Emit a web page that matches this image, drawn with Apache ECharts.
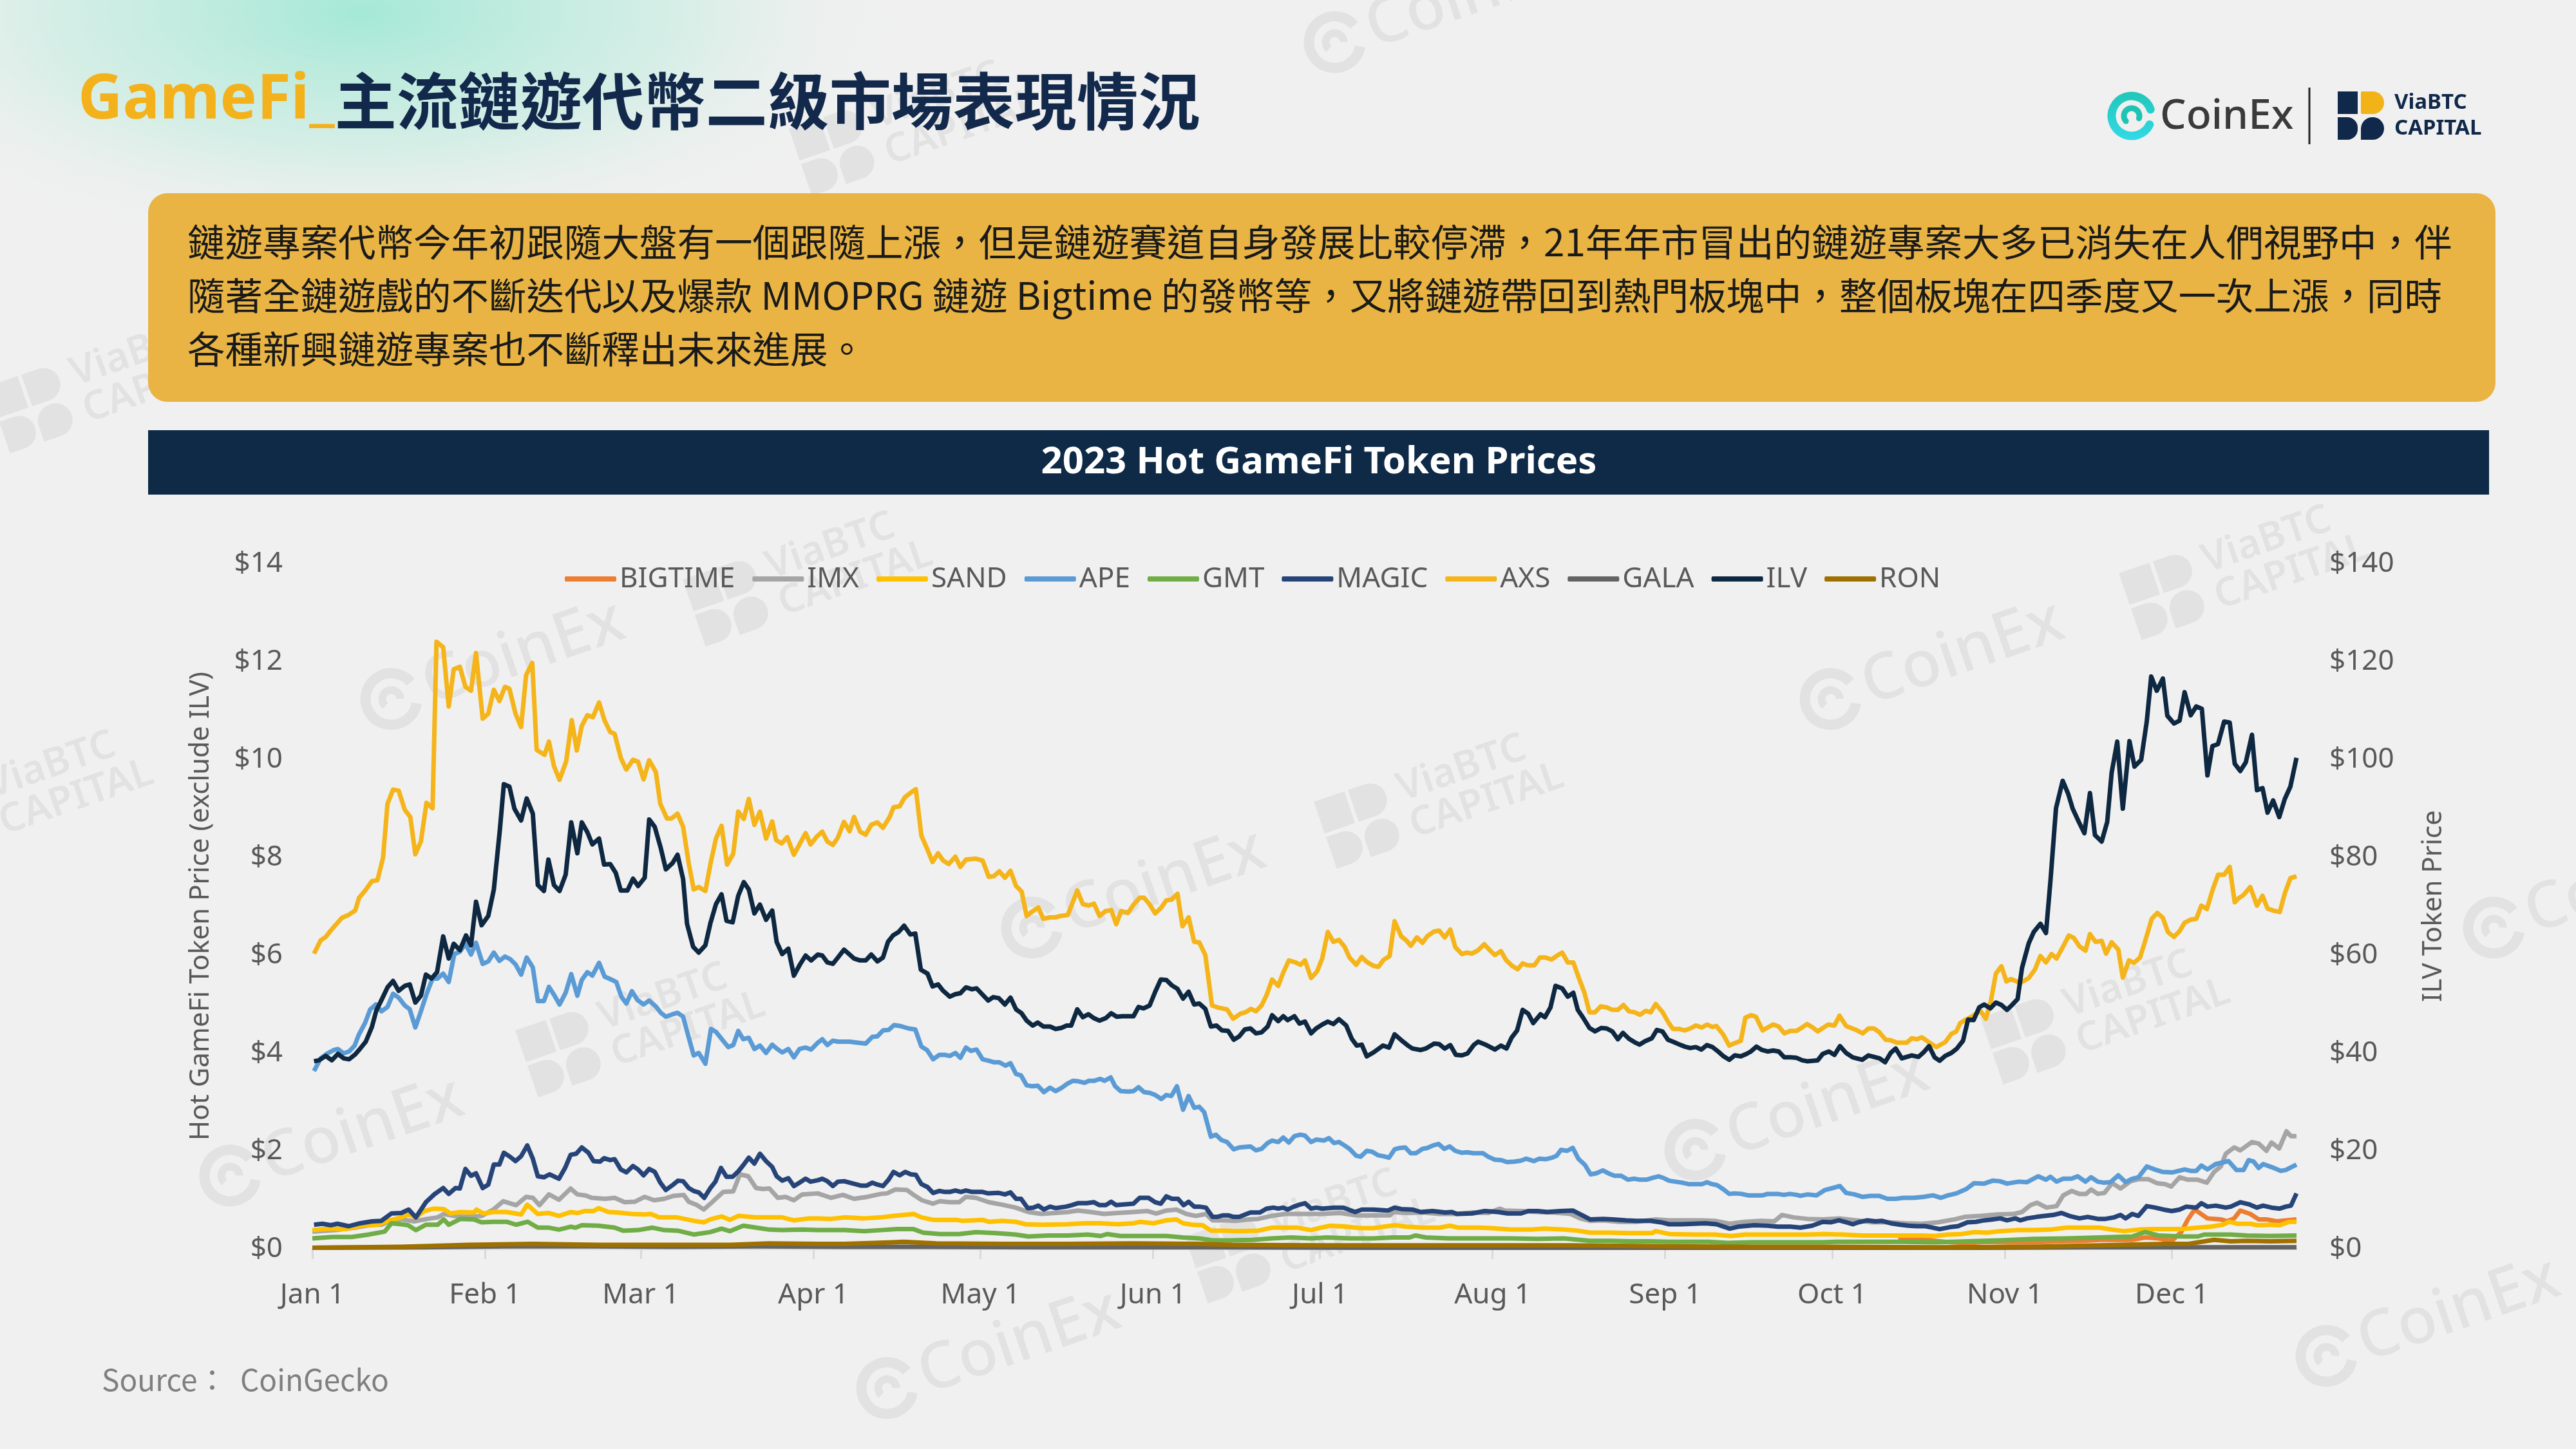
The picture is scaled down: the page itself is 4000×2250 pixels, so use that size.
<!DOCTYPE html>
<meta charset="utf-8">
<style>
html, body { margin: 0; padding: 0; background: #f0f0f0; }
#main { width: 4000px; height: 2250px; }
</style>
<div id="main"></div>
<script src="https://cdn.jsdelivr.net/npm/echarts@6/dist/echarts.min.js"></script>
<script>
// prices: [days after 2023-01-01, USD]
var BIGTIME = [[284.9,0.18],[287.2,0.23],[289.7,0.21],[291.4,0.16],[294.4,0.13],[297.4,0.12],[300.9,0.14],[304.4,0.13],[309.2,0.13],[313.9,0.15],[318.0,0.16],[321.0,0.18],[323.9,0.18],[326.9,0.18],[329.2,0.23],[331.6,0.21],[334.0,0.16],[335.7,0.34],[336.9,0.60],[338.1,0.80],[340.4,0.62],[342.8,0.60],[343.9,0.56],[345.2,0.62],[346.3,0.78],[348.1,0.71],[349.6,0.60],[351.0,0.60],[352.8,0.56],[354.6,0.58],[356.4,0.60]];

var IMX = [[0,0.35],[4.2,0.38],[7.7,0.43],[10.7,0.49],[12.4,0.49],[14.2,0.58],[16.0,0.60],[18.3,0.56],[20.7,0.61],[22.5,0.64],[23.6,0.71],[25.4,0.67],[27.8,0.65],[30.4,0.67],[32.5,0.80],[34.3,0.97],[36.6,0.89],[38.4,1.06],[39.6,1.04],[40.8,0.89],[42.5,1.11],[44.3,1.00],[46.4,1.23],[47.6,1.11],[49.0,1.09],[50.2,1.04],[52.6,1.02],[54.3,1.04],[56.1,0.95],[57.9,0.96],[59.7,1.06],[61.4,0.99],[63.2,1.02],[64.9,1.08],[66.7,1.10],[67.6,0.96],[69.1,0.89],[70.3,0.80],[71.8,0.95],[73.8,1.16],[75.6,1.17],[76.8,1.52],[78.3,1.48],[79.7,1.24],[80.9,1.22],[82.1,1.23],[83.6,1.04],[85.0,1.06],[86.5,0.99],[88.0,1.11],[90.8,1.13],[93.2,1.04],[95.3,1.10],[97.3,1.02],[99.7,1.06],[102.1,1.12],[103.2,1.13],[104.7,1.21],[106.8,1.20],[108.0,1.10],[109.5,0.99],[111.5,0.92],[112.7,0.97],[114.5,0.95],[116.2,0.95],[117.4,1.06],[119.2,1.04],[121.5,0.95],[123.9,0.90],[126.3,0.84],[128.6,0.75],[131.0,0.71],[133.4,0.73],[135.7,0.75],[137.5,0.78],[139.8,0.75],[142.2,0.71],[144.6,0.73],[147.5,0.75],[149.9,0.77],[151.6,0.72],[153.4,0.78],[155.2,0.80],[157.0,0.71],[158.7,0.67],[160.5,0.71],[161.7,0.58],[164.1,0.58],[165.8,0.57],[168.2,0.60],[169.9,0.61],[172.3,0.67],[174.7,0.71],[177.0,0.71],[179.4,0.71],[181.1,0.71],[184.6,0.73],[187.6,0.68],[190.6,0.68],[193.5,0.68],[194.2,0.75],[196.5,0.73],[199.4,0.74],[202.4,0.71],[205.3,0.71],[208.3,0.74],[211.2,0.73],[213.3,0.82],[214.2,0.78],[217.1,0.77],[220.1,0.75],[223.0,0.74],[226.0,0.71],[227.7,0.62],[229.5,0.57],[231.9,0.58],[234.8,0.55],[237.8,0.55],[241.3,0.60],[243.7,0.58],[246.6,0.58],[249.6,0.58],[251.9,0.57],[254.6,0.51],[257.3,0.55],[260.2,0.57],[262.6,0.56],[264.0,0.69],[266.1,0.64],[268.5,0.61],[271.3,0.60],[274.3,0.62],[277.3,0.58],[280.2,0.54],[283.2,0.54],[286.1,0.52],[289.1,0.51],[292.0,0.54],[295.0,0.60],[296.8,0.65],[299.7,0.67],[302.7,0.70],[305.6,0.71],[307.1,0.75],[308.6,0.89],[309.8,0.94],[311.5,0.84],[313.3,0.87],[314.5,1.09],[316.0,1.18],[317.4,1.12],[318.6,1.12],[319.5,1.21],[320.7,1.12],[321.9,1.14],[323.3,1.34],[324.8,1.23],[326.6,1.38],[328.0,1.42],[329.8,1.42],[331.3,1.34],[332.8,1.32],[333.9,1.27],[335.4,1.46],[336.9,1.41],[338.6,1.41],[340.3,1.35],[341.6,1.57],[342.8,1.68],[343.7,1.94],[345.2,2.07],[346.3,2.01],[348.4,2.18],[349.6,2.15],[351.0,2.00],[351.9,2.17],[353.3,2.05],[354.6,2.40],[355.4,2.30],[356.4,2.30]];

var SAND = [[0,0.38],[3.0,0.41],[5.9,0.40],[8.9,0.47],[11.8,0.49],[13.6,0.57],[16.0,0.64],[17.2,0.70],[18.6,0.64],[20.1,0.77],[21.9,0.82],[23.6,0.81],[24.8,0.72],[26.6,0.75],[29.0,0.74],[29.5,0.80],[30.7,0.72],[32.5,0.75],[34.9,0.75],[37.5,0.70],[38.6,0.90],[40.5,0.71],[42.5,0.73],[44.3,0.67],[46.4,0.75],[47.6,0.73],[49.0,0.77],[50.5,0.77],[51.4,0.83],[53.2,0.75],[54.9,0.74],[57.3,0.71],[59.7,0.70],[60.8,0.71],[62.3,0.64],[65.5,0.64],[68.5,0.57],[70.3,0.54],[71.5,0.60],[73.5,0.66],[75.0,0.59],[76.5,0.67],[79.7,0.64],[82.1,0.64],[84.4,0.64],[86.5,0.58],[89.2,0.62],[90.8,0.62],[93.2,0.61],[95.6,0.64],[97.3,0.63],[99.1,0.62],[102.1,0.64],[104.4,0.67],[106.2,0.69],[108.0,0.71],[109.4,0.64],[111.5,0.59],[115.6,0.59],[116.8,0.57],[120.4,0.59],[121.5,0.55],[123.9,0.57],[126.3,0.55],[128.1,0.50],[131.0,0.49],[135.7,0.50],[138.7,0.52],[141.6,0.52],[144.6,0.50],[147.5,0.52],[148.7,0.55],[151.1,0.52],[153.4,0.58],[155.2,0.60],[156.4,0.52],[158.1,0.49],[159.9,0.48],[161.4,0.37],[164.1,0.37],[165.8,0.36],[169.9,0.37],[172.3,0.43],[174.7,0.43],[177.0,0.43],[179.4,0.38],[181.1,0.43],[182.9,0.47],[185.8,0.45],[188.2,0.42],[190.6,0.42],[194.4,0.48],[196.5,0.45],[199.4,0.43],[202.4,0.43],[204.3,0.47],[205.9,0.43],[209.5,0.43],[211.8,0.42],[215.3,0.39],[218.9,0.39],[221.3,0.41],[224.8,0.39],[227.2,0.37],[229.5,0.33],[233.0,0.33],[236.6,0.32],[240.7,0.32],[241.3,0.36],[243.7,0.30],[248.4,0.29],[251.9,0.29],[254.9,0.26],[257.3,0.29],[261.4,0.29],[264.9,0.29],[268.5,0.29],[271.4,0.30],[274.9,0.29],[278.5,0.27],[282.0,0.27],[285.5,0.27],[289.1,0.27],[291.4,0.26],[293.8,0.29],[296.2,0.30],[298.5,0.34],[300.9,0.33],[303.2,0.36],[306.2,0.38],[309.2,0.38],[312.1,0.39],[315.1,0.43],[318.0,0.43],[321.0,0.43],[323.3,0.39],[325.4,0.36],[328.0,0.39],[330.4,0.40],[332.8,0.40],[335.7,0.40],[338.7,0.43],[341.0,0.45],[343.1,0.49],[344.3,0.55],[345.8,0.51],[348.1,0.51],[349.3,0.48],[351.6,0.49],[353.4,0.48],[355.1,0.55],[356.4,0.55]];

var APE = [[0.3,3.63],[1.5,3.89],[2.7,3.99],[3.9,4.06],[4.6,4.08],[5.6,3.99],[6.6,4.03],[7.6,4.15],[8.3,4.36],[9.5,4.62],[10.4,4.89],[11.4,4.99],[12.4,4.85],[13.5,4.94],[14.5,5.21],[15.5,5.13],[16.6,4.97],[17.5,4.89],[18.5,4.52],[19.5,4.85],[20.6,5.23],[21.6,5.52],[22.5,5.52],[23.5,5.62],[24.5,5.45],[25.5,6.02],[26.5,6.07],[27.5,6.23],[28.5,6.01],[29.4,6.25],[30.6,5.82],[31.6,5.87],[32.6,6.05],[33.6,5.88],[34.6,5.97],[35.5,5.92],[36.5,5.81],[37.5,5.60],[38.5,5.95],[39.6,5.75],[40.5,5.06],[41.6,5.06],[42.5,5.35],[43.4,5.19],[44.4,4.99],[45.5,5.23],[46.5,5.61],[47.6,5.17],[48.4,5.49],[49.4,5.65],[50.3,5.58],[51.5,5.84],[52.5,5.56],[53.5,5.51],[54.6,5.45],[55.5,5.15],[56.4,5.01],[57.4,5.26],[58.4,5.08],[59.5,4.99],[60.5,5.07],[61.7,4.95],[62.6,4.82],[63.5,4.74],[64.7,4.79],[65.6,4.82],[66.6,4.74],[67.5,4.36],[68.5,3.95],[69.4,4.00],[70.6,3.78],[71.6,4.49],[72.5,4.43],[73.5,4.29],[74.7,4.12],[75.6,4.16],[76.5,4.45],[77.4,4.28],[78.4,4.31],[79.4,4.08],[80.4,4.15],[81.5,4.00],[82.6,4.17],[83.4,4.09],[84.4,4.01],[85.5,4.08],[86.5,3.91],[87.5,4.08],[88.6,4.11],[89.6,4.07],[90.8,4.21],[91.6,4.28],[92.5,4.16],[93.5,4.25],[94.4,4.23],[96.5,4.23],[97.9,4.21],[99.4,4.19],[100.6,4.33],[101.5,4.34],[102.5,4.46],[103.5,4.47],[104.5,4.57],[105.6,4.55],[107.1,4.50],[108.3,4.48],[109.4,4.13],[110.4,4.06],[111.5,3.87],[112.6,3.96],[113.6,3.96],[114.5,3.94],[115.5,4.00],[116.4,3.90],[117.4,4.11],[118.3,4.04],[119.3,4.07],[120.4,3.87],[121.5,3.84],[122.4,3.81],[123.4,3.81],[124.5,3.74],[125.4,3.79],[126.4,3.57],[127.3,3.54],[128.3,3.34],[129.2,3.32],[130.3,3.33],[131.4,3.20],[132.5,3.29],[133.5,3.22],[134.5,3.28],[135.6,3.37],[136.6,3.43],[137.6,3.42],[138.7,3.39],[139.5,3.43],[140.4,3.43],[141.5,3.47],[142.3,3.43],[143.4,3.50],[144.2,3.32],[145.2,3.22],[146.6,3.21],[147.5,3.22],[148.4,3.30],[149.4,3.20],[150.5,3.18],[151.4,3.14],[152.5,3.06],[153.4,3.14],[154.3,3.12],[155.3,3.32],[156.4,2.84],[157.4,3.12],[158.4,2.88],[159.3,2.90],[160.2,2.79],[161.4,2.29],[162.3,2.33],[163.3,2.22],[164.3,2.18],[165.5,2.03],[166.5,2.07],[168.5,2.09],[169.5,2.01],[170.5,2.04],[171.6,2.16],[172.4,2.21],[173.5,2.18],[174.4,2.27],[175.4,2.17],[176.4,2.30],[177.5,2.33],[178.3,2.31],[179.4,2.18],[180.3,2.23],[181.7,2.21],[182.6,2.26],[183.5,2.16],[184.4,2.18],[185.4,2.11],[186.4,2.03],[187.5,1.90],[188.3,1.88],[189.4,2.00],[190.4,1.98],[191.4,1.91],[192.4,1.89],[193.4,1.86],[194.4,2.03],[195.4,2.06],[196.3,2.07],[197.3,1.95],[198.2,1.95],[199.4,2.04],[200.3,2.06],[201.3,2.11],[202.3,2.14],[203.3,2.04],[204.3,2.09],[205.3,2.00],[206.5,1.96],[207.4,1.97],[208.6,1.95],[210.3,1.95],[211.2,1.88],[212.4,1.82],[213.6,1.81],[214.6,1.77],[215.9,1.78],[217.1,1.80],[218.0,1.84],[219.4,1.79],[220.4,1.84],[221.6,1.83],[222.7,1.86],[223.5,1.90],[224.3,2.02],[225.4,2.00],[226.4,2.06],[227.4,1.84],[228.6,1.71],[229.6,1.52],[230.6,1.54],[231.8,1.60],[232.8,1.54],[233.9,1.49],[235.1,1.49],[236.3,1.41],[237.4,1.43],[238.5,1.41],[239.6,1.41],[240.8,1.45],[241.8,1.48],[242.8,1.44],[243.7,1.39],[244.8,1.37],[246.0,1.35],[247.2,1.32],[249.6,1.32],[250.5,1.36],[251.4,1.32],[252.3,1.30],[253.5,1.21],[254.5,1.12],[255.5,1.13],[256.7,1.12],[257.9,1.09],[260.5,1.09],[261.4,1.12],[263.2,1.12],[264.3,1.10],[265.4,1.12],[266.6,1.10],[267.3,1.08],[268.6,1.11],[270.2,1.09],[271.7,1.20],[273.1,1.24],[274.4,1.28],[275.5,1.14],[277.0,1.11],[278.4,1.06],[279.9,1.08],[281.4,1.08],[282.9,1.02],[284.4,1.02],[285.8,1.04],[287.6,1.04],[289.4,1.06],[291.1,1.09],[292.5,1.04],[293.8,1.09],[295.3,1.13],[297.1,1.22],[298.5,1.34],[300.3,1.33],[301.8,1.39],[303.1,1.38],[304.4,1.33],[306.5,1.37],[308.0,1.36],[310.0,1.48],[311.4,1.41],[312.2,1.47],[313.3,1.37],[314.5,1.43],[316.0,1.43],[317.1,1.48],[318.5,1.37],[319.5,1.46],[320.7,1.37],[321.7,1.35],[323.0,1.36],[324.4,1.50],[325.7,1.36],[326.9,1.43],[328.0,1.46],[329.5,1.68],[330.9,1.62],[332.3,1.57],[334.2,1.56],[336.3,1.62],[337.4,1.59],[338.4,1.59],[339.3,1.70],[340.4,1.62],[341.9,1.73],[343.1,1.76],[344.2,1.79],[345.6,1.61],[346.9,1.61],[347.8,1.81],[348.7,1.78],[349.6,1.65],[350.4,1.73],[352.1,1.66],[353.6,1.59],[354.5,1.61],[356.4,1.72]];

var GMT = [[0,0.21],[3.6,0.24],[7.1,0.24],[10.1,0.29],[13.0,0.35],[14.2,0.52],[16.0,0.50],[17.2,0.48],[18.6,0.38],[20.4,0.49],[22.5,0.49],[23.6,0.60],[24.5,0.49],[26.6,0.61],[29.0,0.60],[30.4,0.54],[32.5,0.55],[34.9,0.55],[36.6,0.49],[38.7,0.55],[40.5,0.43],[42.5,0.43],[44.3,0.39],[46.4,0.45],[47.3,0.43],[48.4,0.48],[51.4,0.47],[54.3,0.43],[55.8,0.37],[58.5,0.38],[61.1,0.43],[63.2,0.38],[65.6,0.37],[68.5,0.29],[71.5,0.34],[73.5,0.41],[75.0,0.36],[77.4,0.47],[79.7,0.43],[82.1,0.39],[84.4,0.38],[88.0,0.39],[90.8,0.38],[92.0,0.38],[95.6,0.38],[99.1,0.36],[102.1,0.38],[105.0,0.40],[108.0,0.40],[109.7,0.33],[112.7,0.30],[116.2,0.30],[119.2,0.34],[122.7,0.32],[126.3,0.29],[128.6,0.25],[132.2,0.27],[135.7,0.27],[139.3,0.29],[141.6,0.26],[142.8,0.30],[145.2,0.26],[149.3,0.26],[153.4,0.26],[156.4,0.23],[159.3,0.21],[161.7,0.17],[165.2,0.17],[168.8,0.18],[172.3,0.21],[175.8,0.23],[179.4,0.21],[182.3,0.23],[186.4,0.21],[190.6,0.21],[194.1,0.23],[197.0,0.23],[198.2,0.27],[200.0,0.23],[204.1,0.21],[208.3,0.21],[211.8,0.21],[215.3,0.21],[220.1,0.20],[224.8,0.21],[229.5,0.16],[233.0,0.16],[236.6,0.15],[240.1,0.15],[243.7,0.14],[247.2,0.14],[250.8,0.14],[254.3,0.12],[258.4,0.13],[262.6,0.13],[267.3,0.13],[271.3,0.13],[273.7,0.14],[279.6,0.14],[285.5,0.14],[291.4,0.13],[297.4,0.15],[303.3,0.17],[309.2,0.20],[315.1,0.21],[321.0,0.23],[326.9,0.25],[329.2,0.34],[331.6,0.27],[335.7,0.25],[338.7,0.25],[339.8,0.29],[344.6,0.29],[347.5,0.27],[351.7,0.26],[356.4,0.27]];

var MAGIC = [[0.3,0.49],[1.8,0.51],[3.3,0.48],[4.5,0.51],[6.5,0.46],[8.6,0.52],[10.7,0.56],[12.4,0.57],[14.2,0.72],[16.0,0.73],[17.3,0.80],[18.6,0.64],[20.4,0.95],[21.9,1.11],[23.5,1.24],[24.5,1.12],[25.7,1.24],[26.5,1.23],[27.5,1.63],[28.5,1.49],[29.4,1.54],[30.6,1.24],[31.6,1.31],[32.6,1.72],[33.6,1.72],[34.4,1.96],[35.5,1.88],[36.5,1.79],[37.5,1.89],[38.6,2.11],[39.6,1.84],[40.5,1.48],[41.6,1.46],[42.6,1.52],[44.3,1.43],[45.4,1.65],[46.4,1.92],[47.4,1.94],[48.4,2.07],[49.6,1.96],[50.5,1.79],[51.7,1.78],[52.4,1.85],[53.5,1.81],[54.3,1.83],[55.4,1.62],[56.4,1.56],[57.6,1.69],[58.5,1.62],[59.5,1.50],[60.5,1.63],[61.5,1.57],[62.5,1.35],[63.5,1.20],[64.7,1.30],[65.7,1.39],[66.6,1.38],[67.6,1.24],[68.5,1.18],[69.4,1.15],[70.4,1.04],[71.5,1.24],[72.4,1.37],[73.4,1.65],[74.4,1.47],[75.5,1.47],[76.5,1.58],[77.5,1.72],[78.4,1.86],[79.4,1.74],[80.4,1.94],[81.5,1.79],[82.6,1.67],[83.4,1.48],[84.4,1.39],[85.5,1.44],[86.5,1.28],[87.5,1.35],[88.6,1.43],[89.5,1.37],[90.8,1.40],[91.6,1.43],[92.5,1.38],[93.5,1.28],[94.4,1.37],[95.5,1.38],[96.5,1.35],[97.5,1.32],[98.5,1.29],[99.6,1.29],[100.6,1.35],[101.5,1.31],[102.5,1.28],[103.5,1.41],[104.4,1.57],[105.5,1.50],[106.5,1.57],[107.5,1.52],[108.4,1.51],[109.4,1.32],[110.5,1.26],[111.5,1.14],[112.6,1.18],[113.6,1.16],[114.5,1.16],[115.5,1.19],[116.5,1.16],[117.4,1.19],[118.5,1.16],[120.4,1.16],[121.4,1.13],[123.3,1.14],[124.4,1.11],[125.4,1.15],[126.4,1.02],[127.3,1.02],[128.5,0.83],[129.5,0.84],[130.4,0.88],[131.4,0.80],[132.5,0.86],[133.5,0.83],[135.4,0.86],[136.4,0.89],[137.5,0.93],[139.1,0.93],[140.4,0.95],[141.4,0.89],[142.5,0.89],[143.5,0.96],[144.4,0.89],[147.5,0.92],[148.6,1.04],[150.2,1.04],[151.4,0.95],[152.4,0.92],[153.4,1.07],[154.4,1.02],[155.5,1.02],[156.5,0.89],[157.4,0.96],[158.4,0.86],[159.3,0.86],[160.5,0.84],[161.7,0.65],[162.5,0.65],[163.5,0.68],[164.6,0.68],[165.5,0.65],[166.5,0.65],[167.6,0.70],[168.5,0.74],[170.2,0.74],[171.4,0.82],[172.6,0.84],[173.5,0.82],[174.4,0.84],[175.2,0.80],[176.3,0.86],[177.3,0.90],[178.3,0.93],[179.4,0.82],[180.3,0.84],[181.4,0.82],[183.5,0.84],[185.2,0.84],[187.3,0.75],[188.5,0.80],[190.6,0.80],[193.2,0.78],[194.4,0.84],[195.6,0.81],[197.6,0.80],[199.1,0.75],[201.2,0.77],[203.5,0.74],[204.7,0.75],[205.6,0.71],[208.3,0.72],[210.6,0.77],[213.0,0.75],[214.7,0.72],[217.1,0.72],[218.4,0.77],[220.1,0.77],[221.8,0.75],[224.2,0.77],[226.4,0.78],[228.0,0.69],[229.5,0.60],[231.9,0.61],[233.6,0.60],[236.0,0.58],[237.8,0.57],[240.4,0.57],[242.2,0.54],[243.7,0.50],[246.0,0.50],[248.1,0.51],[250.2,0.52],[252.2,0.50],[254.6,0.41],[256.1,0.45],[259.0,0.48],[261.4,0.47],[263.2,0.45],[265.5,0.45],[267.3,0.43],[269.4,0.47],[271.3,0.55],[272.8,0.54],[274.2,0.58],[275.5,0.54],[276.7,0.50],[277.7,0.54],[279.3,0.58],[280.8,0.56],[281.9,0.57],[283.5,0.52],[285.2,0.49],[286.7,0.47],[288.2,0.46],[289.7,0.46],[291.1,0.43],[292.3,0.40],[294.1,0.44],[295.6,0.46],[297.3,0.54],[298.8,0.55],[300.3,0.58],[301.8,0.60],[303.2,0.62],[304.4,0.58],[305.9,0.62],[306.8,0.58],[308.0,0.62],[309.7,0.65],[311.2,0.67],[312.7,0.69],[314.2,0.73],[315.6,0.67],[317.4,0.62],[318.9,0.65],[320.7,0.61],[322.1,0.61],[323.6,0.64],[324.8,0.69],[325.7,0.62],[326.9,0.71],[328.0,0.67],[329.5,0.87],[331.0,0.84],[332.5,0.80],[334.0,0.77],[335.4,0.80],[336.6,0.86],[338.4,0.84],[339.3,0.93],[340.4,0.86],[341.9,0.88],[343.7,0.84],[344.6,0.86],[346.3,0.95],[347.8,0.91],[349.3,0.84],[350.4,0.88],[351.9,0.84],[353.4,0.82],[354.5,0.86],[355.4,0.88],[356.4,1.13]];

var AXS = [[0.3,6.03],[1.5,6.30],[2.4,6.37],[3.3,6.50],[5.3,6.76],[6.5,6.82],[7.7,6.91],[8.4,7.17],[9.5,7.32],[10.7,7.51],[11.7,7.53],[12.7,7.99],[13.5,9.09],[14.5,9.38],[15.5,9.36],[16.6,8.97],[17.6,8.82],[18.5,8.06],[19.5,8.32],[20.5,9.11],[21.6,9.00],[22.3,12.40],[23.5,12.29],[24.5,11.08],[25.4,11.84],[26.5,11.89],[27.5,11.48],[28.5,11.40],[29.4,12.17],[30.6,10.83],[31.6,10.93],[32.6,11.42],[33.6,11.19],[34.6,11.48],[35.4,11.44],[36.5,10.93],[37.5,10.66],[38.4,11.72],[39.5,11.97],[40.3,10.19],[41.7,10.09],[42.5,10.36],[43.4,9.86],[44.4,9.58],[45.6,9.96],[46.6,10.80],[47.5,10.18],[48.4,10.68],[49.4,10.90],[50.4,10.86],[51.5,11.16],[52.5,10.79],[53.5,10.56],[54.3,10.52],[55.4,10.03],[56.4,9.79],[57.6,9.99],[58.5,9.95],[59.5,9.59],[60.5,9.98],[61.7,9.74],[62.5,9.09],[63.7,8.79],[64.5,8.79],[65.6,8.89],[66.6,8.62],[67.6,7.88],[68.5,7.34],[69.4,7.39],[70.6,7.31],[71.6,7.91],[72.5,8.38],[73.5,8.64],[74.5,7.85],[75.6,8.07],[76.5,8.93],[77.5,8.78],[78.4,9.19],[79.4,8.66],[80.4,8.93],[81.5,8.38],[82.6,8.73],[83.3,8.35],[84.3,8.28],[85.3,8.41],[86.5,8.05],[87.5,8.26],[88.6,8.49],[89.5,8.26],[90.6,8.42],[91.6,8.52],[92.5,8.32],[93.5,8.25],[94.4,8.40],[95.5,8.72],[96.5,8.53],[97.3,8.82],[98.4,8.52],[99.4,8.46],[100.4,8.66],[101.5,8.71],[102.5,8.60],[103.7,8.82],[104.4,9.02],[105.5,9.04],[106.4,9.22],[107.4,9.31],[108.4,9.39],[109.4,8.44],[110.4,8.18],[111.4,7.90],[112.4,8.08],[113.3,7.93],[114.3,7.86],[115.5,8.01],[116.4,7.80],[117.4,7.95],[119.2,7.97],[120.4,7.93],[121.5,7.60],[122.4,7.61],[123.4,7.71],[124.4,7.58],[125.4,7.72],[126.4,7.41],[127.4,7.30],[128.3,6.80],[129.2,6.88],[130.4,6.97],[131.3,6.74],[132.5,6.77],[133.4,6.77],[134.5,6.80],[135.7,6.82],[137.4,7.32],[138.4,7.04],[139.4,7.01],[140.4,7.05],[141.4,6.80],[142.5,6.90],[143.5,6.92],[144.4,6.63],[145.3,6.90],[146.5,6.86],[147.5,7.03],[148.6,7.17],[149.4,7.17],[150.3,7.05],[151.4,6.85],[152.5,6.97],[153.4,7.12],[154.3,7.13],[155.4,7.25],[156.3,6.59],[157.4,6.77],[158.4,6.27],[159.3,6.26],[160.4,6.00],[161.6,4.97],[162.6,4.93],[164.3,4.89],[165.4,4.70],[166.7,4.80],[167.6,4.83],[168.6,4.90],[169.5,4.85],[170.5,4.97],[171.4,5.18],[172.4,5.50],[173.5,5.37],[174.4,5.64],[175.4,5.89],[176.6,5.85],[177.5,5.80],[178.3,5.89],[179.4,5.53],[180.5,5.67],[181.4,5.93],[182.4,6.47],[183.4,6.27],[184.4,6.31],[185.4,6.17],[186.3,5.95],[187.5,5.80],[188.5,5.96],[189.4,5.86],[190.6,5.78],[191.5,5.76],[192.4,5.90],[193.5,5.98],[194.4,6.69],[195.6,6.38],[196.5,6.30],[197.3,6.19],[198.4,6.36],[199.4,6.25],[200.3,6.39],[201.5,6.48],[202.4,6.50],[203.4,6.36],[204.4,6.52],[205.3,6.16],[206.5,6.02],[207.4,6.05],[208.3,6.03],[209.3,6.09],[210.5,6.22],[211.5,6.10],[212.4,6.00],[213.5,6.08],[214.4,5.90],[215.5,5.78],[216.5,5.71],[217.4,5.83],[218.3,5.79],[219.5,5.79],[220.5,5.95],[221.5,5.95],[222.6,5.91],[223.6,5.99],[224.5,6.05],[225.5,5.85],[226.5,5.85],[227.5,5.53],[228.5,5.23],[229.4,4.83],[230.4,4.83],[231.4,4.95],[232.5,4.93],[233.5,4.88],[234.5,4.88],[235.5,4.98],[236.5,4.85],[237.5,4.83],[238.5,4.78],[239.5,4.86],[240.4,4.83],[241.3,5.00],[242.5,4.84],[243.6,4.62],[244.4,4.49],[245.6,4.49],[246.5,4.46],[247.5,4.50],[248.5,4.56],[249.6,4.52],[250.5,4.58],[251.5,4.53],[252.2,4.55],[253.4,4.38],[254.5,4.15],[255.5,4.20],[256.6,4.25],[257.4,4.72],[258.4,4.77],[259.3,4.74],[260.5,4.46],[261.4,4.52],[262.4,4.58],[263.4,4.54],[264.4,4.40],[265.5,4.45],[266.6,4.45],[267.6,4.52],[268.5,4.59],[269.5,4.52],[270.4,4.44],[272.3,4.58],[273.4,4.56],[274.3,4.76],[275.5,4.55],[277.3,4.47],[278.5,4.40],[279.5,4.50],[280.5,4.50],[281.4,4.43],[282.6,4.27],[283.5,4.26],[284.6,4.21],[286.4,4.21],[287.3,4.30],[288.2,4.28],[289.1,4.32],[290.6,4.20],[291.7,4.12],[293.3,4.22],[294.4,4.39],[295.3,4.44],[296.0,4.61],[297.0,4.68],[298.2,4.75],[299.6,4.86],[300.6,4.70],[301.5,5.06],[302.4,5.62],[303.4,5.77],[304.3,5.46],[305.1,5.51],[306.8,5.43],[308.3,5.53],[309.4,5.70],[310.4,5.98],[311.4,5.85],[312.4,6.02],[313.3,5.93],[314.5,6.18],[315.5,6.40],[316.4,6.35],[317.4,6.18],[318.5,6.09],[319.3,6.43],[320.3,6.27],[321.4,6.29],[322.2,6.03],[323.2,6.26],[324.4,6.11],[325.2,5.54],[326.3,5.89],[327.2,5.84],[328.3,5.95],[329.3,6.32],[330.4,6.74],[331.4,6.86],[332.4,6.76],[333.3,6.47],[334.4,6.37],[335.4,6.49],[336.3,6.66],[337.3,6.72],[338.4,6.74],[339.3,7.01],[340.3,6.94],[341.3,7.32],[342.3,7.64],[343.4,7.64],[344.4,7.80],[345.3,7.08],[346.0,7.16],[346.9,7.23],[348.1,7.39],[349.3,7.01],[350.3,7.21],[351.2,6.95],[352.2,6.91],[353.4,6.88],[354.3,7.26],[355.3,7.57],[356.4,7.61]];

var GALA = [[0,0.02],[20,0.03],[35,0.05],[50,0.05],[65,0.04],[80,0.05],[95,0.04],[110,0.04],[130,0.03],[160,0.03],[190,0.02],[220,0.02],[250,0.02],[280,0.02],[300,0.02],[320,0.03],[340,0.03],[356.4,0.03]];

// ILV is read against the right-hand axis
var ILV = [[0.3,38.3],[1.2,38.5],[2.4,39.4],[3.5,38.5],[4.6,39.8],[5.6,38.9],[6.6,38.7],[7.7,39.7],[8.6,40.9],[9.6,42.3],[10.7,45.3],[11.5,48.7],[12.5,51.0],[13.5,53.4],[14.5,54.7],[15.5,52.7],[16.6,53.7],[17.5,54.0],[18.5,50.3],[19.5,51.7],[20.4,56.0],[21.4,55.2],[22.4,56.5],[23.5,63.8],[24.5,59.3],[25.4,62.3],[26.5,61.0],[27.6,64.0],[28.5,62.0],[29.4,70.9],[30.4,66.1],[31.6,68.0],[32.6,73.4],[33.7,85.8],[34.4,94.9],[35.4,94.4],[36.3,89.9],[37.5,87.5],[38.5,92.0],[39.6,88.9],[40.5,74.3],[41.6,73.1],[42.4,79.5],[43.4,74.3],[44.4,73.1],[45.5,76.4],[46.5,87.1],[47.6,80.8],[48.4,87.1],[49.4,85.1],[50.3,82.6],[51.5,83.8],[52.4,78.5],[53.5,78.6],[54.5,76.8],[55.4,73.2],[56.6,73.2],[57.6,75.6],[58.5,74.1],[59.7,75.8],[60.5,87.7],[61.5,86.2],[62.6,81.8],[63.5,77.5],[64.7,78.8],[65.6,80.5],[66.6,75.5],[67.3,66.4],[68.4,61.7],[69.4,60.5],[70.6,62.0],[71.5,66.5],[72.5,70.4],[73.5,72.4],[74.4,67.0],[75.5,66.7],[76.5,72.1],[77.5,74.9],[78.4,73.4],[79.4,68.5],[80.4,70.3],[81.5,67.2],[82.6,69.1],[83.4,62.7],[84.4,60.2],[85.5,61.3],[86.5,55.8],[87.5,57.9],[88.6,59.9],[89.6,58.9],[90.8,60.1],[91.6,59.9],[92.5,58.5],[93.5,58.2],[94.4,59.5],[95.5,61.1],[96.5,60.1],[97.3,59.3],[98.4,58.9],[99.4,58.9],[100.4,60.1],[101.5,58.7],[102.5,59.5],[103.4,62.7],[104.3,64.0],[105.3,64.7],[106.3,66.0],[107.4,64.2],[108.3,64.4],[109.3,57.0],[110.5,56.2],[111.4,53.6],[112.4,54.0],[113.3,52.7],[114.5,51.5],[115.5,52.0],[116.4,52.2],[117.4,53.4],[118.5,53.0],[119.3,53.2],[120.4,51.9],[121.4,50.7],[122.3,51.4],[123.3,51.2],[124.4,49.9],[125.4,51.3],[126.4,48.9],[127.4,48.1],[128.3,46.6],[129.4,45.6],[130.3,46.2],[131.3,45.4],[132.5,45.4],[133.5,44.9],[134.5,45.1],[135.5,45.6],[136.3,45.6],[137.4,48.9],[138.4,47.3],[139.4,47.9],[140.4,47.1],[141.4,46.6],[142.5,47.1],[143.5,48.1],[144.5,47.4],[145.5,47.5],[147.5,47.5],[148.4,49.4],[149.3,49.1],[150.4,49.7],[151.4,52.5],[152.4,55.0],[153.4,54.9],[154.4,53.8],[155.4,53.1],[156.4,51.1],[157.4,52.5],[158.4,49.9],[159.3,50.1],[160.4,49.0],[161.4,45.4],[162.4,45.6],[163.4,44.6],[164.5,44.5],[165.5,42.7],[166.5,43.4],[167.5,44.8],[168.5,45.0],[169.5,44.0],[170.5,44.2],[171.6,45.4],[172.4,47.7],[173.5,46.5],[174.4,47.5],[175.2,46.7],[176.4,47.5],[177.3,46.0],[178.3,46.4],[179.4,44.0],[180.3,45.0],[181.4,45.8],[182.4,46.4],[183.4,45.9],[184.4,46.9],[185.7,45.6],[186.7,42.9],[187.6,41.5],[188.5,41.7],[189.4,39.3],[190.6,40.1],[192.3,41.5],[193.4,41.1],[194.4,43.8],[195.6,42.6],[196.8,41.5],[197.6,40.9],[199.1,40.6],[200.0,40.9],[201.5,41.9],[202.4,41.8],[203.4,40.9],[204.4,41.6],[205.4,39.6],[206.5,39.5],[207.5,39.9],[208.6,41.6],[209.4,42.3],[210.9,41.6],[212.4,40.7],[213.5,41.5],[214.5,40.9],[215.4,43.1],[216.4,44.6],[217.4,48.8],[218.4,48.0],[219.3,46.1],[220.6,47.9],[221.4,47.3],[222.4,49.3],[223.3,53.7],[224.5,53.2],[225.5,51.5],[226.5,52.3],[227.3,48.8],[228.2,47.3],[229.4,45.1],[230.4,44.4],[231.5,45.1],[232.5,45.0],[233.5,44.4],[234.5,42.8],[235.4,44.1],[236.5,42.9],[237.5,42.2],[238.4,41.7],[239.4,42.4],[240.6,43.0],[241.5,44.7],[242.5,44.4],[243.5,42.7],[244.6,42.2],[245.6,41.7],[246.5,41.3],[247.5,41.0],[248.5,41.2],[249.5,40.7],[250.5,41.6],[251.5,41.2],[252.5,40.3],[253.5,39.3],[254.5,38.6],[255.5,39.5],[256.6,39.3],[257.6,39.8],[258.4,40.3],[259.4,41.3],[260.4,40.6],[261.4,40.3],[262.4,40.5],[263.4,40.3],[264.4,39.1],[265.5,39.1],[266.6,39.0],[267.6,38.5],[268.5,38.3],[270.4,38.5],[271.3,39.8],[272.4,40.3],[273.4,39.6],[274.4,41.4],[275.5,40.0],[276.7,39.1],[278.4,38.6],[279.5,39.5],[280.5,39.2],[281.5,38.9],[282.5,38.1],[283.5,40.0],[284.4,40.9],[285.5,38.9],[287.3,39.5],[288.5,39.2],[289.4,40.1],[290.4,41.4],[291.4,39.1],[292.3,38.4],[293.3,39.4],[294.4,40.0],[295.4,40.9],[296.5,42.5],[297.4,46.8],[298.4,46.7],[299.4,49.3],[300.3,49.9],[301.4,49.1],[302.4,50.3],[303.4,49.8],[304.4,48.8],[305.3,49.8],[306.3,51.0],[307.1,57.4],[308.3,62.4],[309.2,64.7],[310.4,66.4],[311.4,64.5],[312.2,75.1],[313.2,90.0],[314.4,95.6],[315.4,92.9],[316.2,89.9],[317.3,87.2],[318.3,84.9],[319.3,93.1],[320.2,84.5],[321.4,83.2],[322.4,87.2],[323.2,97.3],[324.2,103.6],[325.2,89.9],[326.4,103.7],[327.3,98.5],[328.5,99.9],[329.5,107.7],[330.3,116.9],[331.3,114.0],[332.4,116.5],[333.2,108.9],[334.4,107.3],[335.4,107.9],[336.3,113.7],[337.4,109.0],[338.4,110.8],[339.4,110.3],[340.4,96.7],[341.3,102.7],[342.3,103.1],[343.4,107.7],[344.4,107.5],[345.3,99.1],[346.3,97.6],[347.3,99.4],[348.4,105.0],[349.3,93.7],[350.3,94.1],[351.2,89.1],[352.2,91.6],[353.3,88.2],[354.3,91.9],[355.3,94.4],[356.4,100.3]];

var RON = [[0,0.02],[16.0,0.04],[28.0,0.08],[39.6,0.10],[51.4,0.08],[63.2,0.08],[75.0,0.08],[82.0,0.11],[90.8,0.10],[95.6,0.10],[104.4,0.13],[106.2,0.14],[112.1,0.11],[123.9,0.10],[135.7,0.10],[147.5,0.11],[159.3,0.10],[165.2,0.08],[181.0,0.07],[196.5,0.07],[208.3,0.07],[226.0,0.07],[243.7,0.05],[255.5,0.04],[271.3,0.04],[291.4,0.03],[309.2,0.04],[321.0,0.07],[332.8,0.10],[337.0,0.10],[341.6,0.18],[344.6,0.15],[347.5,0.16],[351.7,0.15],[356.4,0.16]];

var tokenNames = ['BIGTIME', 'IMX', 'SAND', 'APE', 'GMT', 'MAGIC', 'AXS', 'GALA', 'ILV', 'RON'];
var tokenData = [BIGTIME, IMX, SAND, APE, GMT, MAGIC, AXS, GALA, ILV, RON];
var tokenColors = ['#ED7D31', '#A5A5A5', '#FFC000', '#5B9BD5', '#70AD47', '#264478', '#F4B41A', '#636363', '#0E2841', '#9E7000'];

var pageTitle = '主流鏈遊代幣二級市場表現情況';
var summaryLines = [
    '鏈遊專案代幣今年初跟隨大盤有一個跟隨上漲，但是鏈遊賽道自身發展比較停滯，21年年市冒出的鏈遊專案大多已消失在人們視野中，伴',
    '隨著全鏈遊戲的不斷迭代以及爆款 MMOPRG 鏈遊 Bigtime 的發幣等，又將鏈遊帶回到熱門板塊中，整個板塊在四季度又一次上漲，同時',
    '各種新興鏈遊專案也不斷釋出未來進展。'
];
var chartTitle = '2023 Hot GameFi Token Prices';
var leftAxisName = 'Hot GameFi Token Price (exclude ILV)';
var rightAxisName = 'ILV Token Price';
var sourceNote = 'Source：  CoinGecko';

var DAY = 864e5;
var T0 = new Date(2023, 0, 1).getTime();
var LAST_DAY = 356.4;

function toPoints(rows) {
    return rows.map(function (r) { return [T0 + r[0] * DAY, r[1]]; });
}

var SANS = "'Noto Sans', 'Noto Sans CJK TC', sans-serif";
var CJK = "'Noto Sans CJK TC', 'Noto Sans', sans-serif";
var MARK = 'rgba(0,0,0,0.055)';

function coinExMark(x, y) {
    return {
        type: 'group', x: x, y: y, rotation: 0.33, silent: true, z: 0,
        children: [
            { type: 'arc', shape: { cx: 45, cy: 0, r: 40, startAngle: 0.5, endAngle: 5.9 }, style: { stroke: MARK, lineWidth: 16, fill: null } },
            { type: 'arc', shape: { cx: 45, cy: 0, r: 14, startAngle: 2.6, endAngle: 6.6 }, style: { stroke: MARK, lineWidth: 12, fill: null } },
            { type: 'text', style: { x: 100, y: 0, text: 'CoinEx', fill: MARK, font: '500 100px ' + SANS, verticalAlign: 'middle' } }
        ]
    };
}

function viaMark(x, y) {
    return {
        type: 'group', x: x, y: y, rotation: 0.33, silent: true, z: 0,
        children: [
            { type: 'rect', shape: { x: 0, y: 0, width: 50, height: 52 }, style: { fill: MARK } },
            { type: 'rect', shape: { x: 56, y: 0, width: 54, height: 52, r: [0, 26, 26, 0] }, style: { fill: MARK } },
            { type: 'rect', shape: { x: 0, y: 58, width: 50, height: 52, r: [0, 26, 26, 0] }, style: { fill: MARK } },
            { type: 'rect', shape: { x: 56, y: 58, width: 54, height: 52, r: [26, 26, 26, 0] }, style: { fill: MARK } },
            { type: 'text', style: { x: 130, y: 26, text: 'ViaBTC', fill: MARK, font: '600 62px ' + SANS, verticalAlign: 'middle' } },
            { type: 'text', style: { x: 130, y: 86, text: 'CAPITAL', fill: MARK, font: '600 62px ' + SANS, verticalAlign: 'middle' } }
        ]
    };
}

var graphics = [
    // mint glow behind the title
    {
        type: 'circle', x: 560, y: 20, scaleX: 2.3, scaleY: 1, silent: true, z: 0,
        shape: { cx: 0, cy: 0, r: 380 },
        style: {
            fill: {
                type: 'radial', x: 0.5, y: 0.5, r: 0.5,
                colorStops: [
                    { offset: 0, color: 'rgba(160,232,212,0.95)' },
                    { offset: 0.55, color: 'rgba(190,236,222,0.55)' },
                    { offset: 1, color: 'rgba(240,240,240,0)' }
                ]
            }
        }
    },
    coinExMark(2030, 80), coinExMark(2800, 1100), coinExMark(1560, 1455), coinExMark(315, 1840),
    coinExMark(2590, 1800), coinExMark(1335, 2170), coinExMark(3570, 2120), coinExMark(3830, 1455),
    coinExMark(565, 1100),
    viaMark(1225, 200), viaMark(1060, 900), viaMark(2040, 1245), viaMark(800, 1600),
    viaMark(3290, 890), viaMark(3075, 1580), viaMark(1840, 1920), viaMark(-20, 600), viaMark(-150, 1240),
    // title
    {
        type: 'text', x: 121, y: 157, z: 5,
        style: {
            text: '{a|GameFi_}{b|' + pageTitle + '}',
            verticalAlign: 'middle',
            rich: {
                a: { fontSize: 96, fontWeight: 'bold', fontFamily: SANS, fill: '#F3B11C' },
                b: { fontSize: 96, fontWeight: 'bold', fontFamily: CJK, fill: '#13294B' }
            }
        }
    },
    // CoinEx logo
    {
        type: 'group', x: 3310, y: 180, z: 5,
        children: [
            {
                type: 'arc', shape: { cx: 0, cy: 0, r: 31, startAngle: 0.45, endAngle: 5.95 },
                style: { stroke: { type: 'linear', x: 0, y: 0, x2: 0, y2: 1, colorStops: [{ offset: 0, color: '#21C7B8' }, { offset: 1, color: '#33D9E6' }] }, lineWidth: 13, fill: null, lineCap: 'round' }
            },
            {
                type: 'arc', shape: { cx: 0, cy: 0, r: 12, startAngle: 2.4, endAngle: 6.6 },
                style: { stroke: '#1FC3B3', lineWidth: 9, fill: null, lineCap: 'round' }
            },
            { type: 'text', style: { x: 44, y: 2, text: 'CoinEx', fill: '#3A3A3A', font: '500 64px ' + SANS, verticalAlign: 'middle' } }
        ]
    },
    { type: 'line', z: 5, shape: { x1: 3586, y1: 136, x2: 3586, y2: 224 }, style: { stroke: '#222', lineWidth: 3 } },
    // ViaBTC Capital logo
    {
        type: 'group', x: 3630, y: 142, z: 5,
        children: [
            { type: 'rect', shape: { x: 0, y: 0, width: 31, height: 35 }, style: { fill: '#10284A' } },
            { type: 'rect', shape: { x: 36, y: 0, width: 36, height: 35, r: [2, 18, 18, 2] }, style: { fill: '#F2B318' } },
            { type: 'rect', shape: { x: 0, y: 40, width: 31, height: 35, r: [0, 16, 16, 0] }, style: { fill: '#10284A' } },
            { type: 'rect', shape: { x: 36, y: 40, width: 36, height: 35, r: [18, 18, 18, 0] }, style: { fill: '#10284A' } },
            { type: 'text', style: { x: 88, y: 18, text: 'ViaBTC', fill: '#10284A', font: 'bold 33px ' + SANS, verticalAlign: 'middle' } },
            { type: 'text', style: { x: 88, y: 58, text: 'CAPITAL', fill: '#10284A', font: 'bold 33px ' + SANS, verticalAlign: 'middle' } }
        ]
    },
    // summary box
    {
        type: 'rect', z: 5,
        shape: { x: 230, y: 300, width: 3645, height: 324, r: 30 },
        style: { fill: '#E9B443' }
    },
    // chart title bar
    {
        type: 'rect', z: 5,
        shape: { x: 230, y: 668, width: 3635, height: 100 },
        style: { fill: '#0E2A47' }
    },
    {
        type: 'text', x: 2048, y: 718, z: 6,
        style: { text: chartTitle, fill: '#fff', font: 'bold 58px ' + SANS, align: 'center', verticalAlign: 'middle' }
    },
    {
        type: 'text', x: 158, y: 2143, z: 5,
        style: { text: sourceNote, fill: '#7F7F7F', font: '46px ' + CJK, verticalAlign: 'middle' }
    }
];

summaryLines.forEach(function (line, i) {
    graphics.push({
        type: 'text', x: 291, y: 376 + i * 83, z: 6,
        style: { text: line, fill: '#1A1A1A', font: '58.5px ' + CJK, verticalAlign: 'middle' }
    });
});

var chart = echarts.init(document.getElementById('main'), null, { renderer: 'canvas' });

chart.setOption({
    animation: false,
    backgroundColor: '#F0F0F0',
    textStyle: { fontFamily: SANS },
    graphic: graphics,
    legend: {
        left: 872,
        top: 872,
        icon: 'roundRect',
        itemWidth: 80,
        itemHeight: 8,
        itemGap: 27,
        textStyle: { fontSize: 44, color: '#595959', fontFamily: SANS },
        data: tokenNames
    },
    grid: { left: 485, right: 434, top: 875, bottom: 311 },
    xAxis: {
        type: 'time',
        min: T0,
        max: T0 + LAST_DAY * DAY,
        minInterval: 28 * DAY,
        maxInterval: 31 * DAY,
        axisLine: { lineStyle: { color: '#D9D9D9', width: 3 } },
        axisTick: { show: true, length: 16, lineStyle: { color: '#D9D9D9', width: 3 } },
        axisLabel: { formatter: '{MMM} {d}', fontSize: 44, color: '#595959', margin: 50, hideOverlap: false },
        splitLine: { show: false }
    },
    yAxis: [
        {
            type: 'value', min: 0, max: 14, interval: 2,
            name: leftAxisName, nameLocation: 'middle', nameRotate: 90, nameGap: 152,
            nameTextStyle: { fontSize: 42, color: '#595959' },
            axisLine: { show: false }, axisTick: { show: false }, splitLine: { show: false },
            axisLabel: { formatter: function (v) { return '$' + v; }, fontSize: 44, color: '#595959', margin: 46 }
        },
        {
            type: 'value', min: 0, max: 140, interval: 20,
            name: rightAxisName, nameLocation: 'middle', nameRotate: 90, nameGap: 192,
            nameTextStyle: { fontSize: 42, color: '#595959' },
            axisLine: { show: false }, axisTick: { show: false }, splitLine: { show: false },
            axisLabel: { formatter: function (v) { return '$' + v; }, fontSize: 44, color: '#595959', margin: 51 }
        }
    ],
    series: tokenNames.map(function (name, i) {
        return {
            name: name,
            type: 'line',
            yAxisIndex: name === 'ILV' ? 1 : 0,
            data: toPoints(tokenData[i]),
            symbol: 'none',
            showSymbol: false,
            color: tokenColors[i],
            lineStyle: { width: 7, color: tokenColors[i], join: 'round' },
            z: 3
        };
    })
});
</script>
